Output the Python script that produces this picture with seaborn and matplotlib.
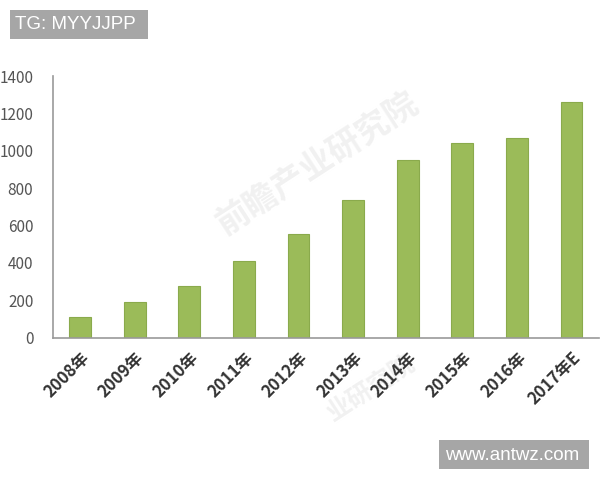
import matplotlib
matplotlib.use("Agg")
import matplotlib.pyplot as plt
import matplotlib.patches as mpatches
import seaborn as sns
import pandas as pd

years = ["2008年", "2009年", "2010年", "2011年", "2012年", "2013年",
         "2014年", "2015年", "2016年", "2017年E"]
values = [112, 192, 278, 410, 553, 737, 952, 1042, 1070, 1262]
y_ticks = [0, 200, 400, 600, 800, 1000, 1200, 1400]

sns.set_theme(style="white")
plt.rcParams['font.family'] = ['Noto Sans CJK SC', 'DejaVu Sans']

df = pd.DataFrame({"year": years, "value": values})

fig = plt.figure(figsize=(6, 4.8), dpi=100)
ax = fig.add_axes([0.088, 0.2965, 0.910, 0.545])
ax.set_zorder(2)
ax.patch.set_alpha(0)

# very faint watermark text behind the chart
wm_color = "#f1f1f1"
fig.text(0.53, 0.66, "前瞻产业研究院", fontsize=24, color=wm_color, rotation=33,
         ha="center", va="center", fontweight="bold", zorder=0)
fig.text(0.62, 0.19, "业研究院", fontsize=18, color=wm_color, rotation=33,
         ha="center", va="center", fontweight="bold", zorder=0)

sns.barplot(data=df, x="year", y="value", order=years, color="#9bbb59",
            width=0.4, edgecolor="#8aaa4c", linewidth=0.8, saturation=1, ax=ax)

ax.set_ylim(0, 1400)
ax.set_xlim(-0.5, len(years) - 0.5)
ax.set_yticks(y_ticks)
ax.set_yticklabels([str(v) for v in y_ticks], fontsize=11, color="#555555")
ax.set_xlabel("")
ax.set_ylabel("")

ax.set_xticks([i for i in range(len(years))])
ax.set_xticklabels(years, rotation=45, ha="right", rotation_mode="anchor",
                   fontsize=12, color="#333333", fontweight="bold")
ax.set_xticks([i - 0.5 for i in range(len(years) + 1)], minor=True)
ax.tick_params(axis="x", which="major", length=0, pad=8)
ax.tick_params(axis="x", which="minor", length=4, color="#888888", width=1, direction="out")
ax.tick_params(axis="y", length=4, color="#888888", width=1, direction="out", pad=10)

for s in ["top", "right"]:
    ax.spines[s].set_visible(False)
for s in ["left", "bottom"]:
    ax.spines[s].set_color("#999999")
    ax.spines[s].set_linewidth(1.2)

# gray label boxes
fig.patches.append(mpatches.Rectangle((10 / 600, 1 - 39 / 480), 138 / 600, 29 / 480,
                                      transform=fig.transFigure, fc="#a6a6a6", ec="none", zorder=3))
fig.text(15 / 600, 1 - 24.5 / 480, "TG: MYYJJPP", fontsize=13.5, color="white",
         family=["Liberation Sans", "DejaVu Sans"], va="center", ha="left", zorder=4)
fig.patches.append(mpatches.Rectangle((439 / 600, 1 - 469 / 480), 150 / 600, 29 / 480,
                                      transform=fig.transFigure, fc="#a6a6a6", ec="none", zorder=3))
fig.text(445 / 600, 1 - 455 / 480, "www.antwz.com", fontsize=13.5, color="white",
         family=["Liberation Sans", "DejaVu Sans"], va="center", ha="left", zorder=4)

fig.savefig("out.png", dpi=100)
